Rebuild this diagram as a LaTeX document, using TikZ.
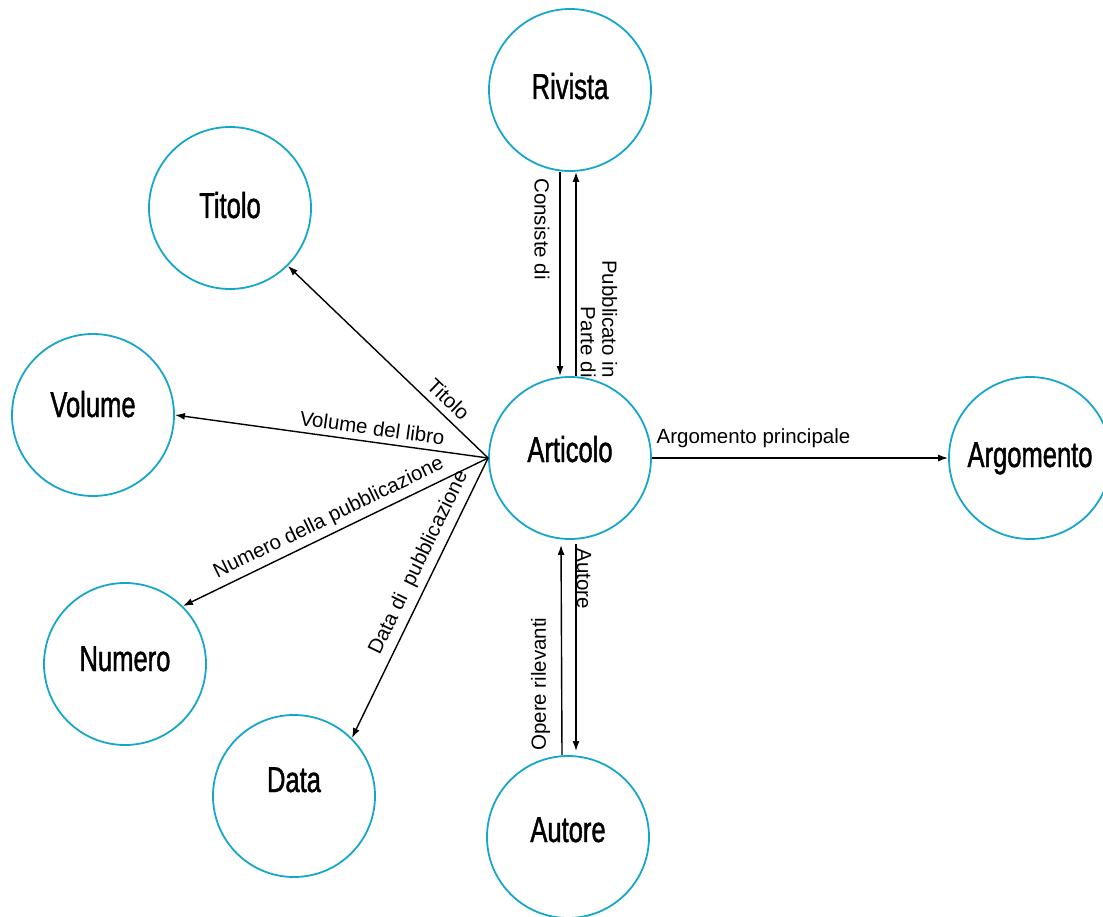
\documentclass[tikz,border=0pt]{standalone}
\usepackage{fontspec}
\setmainfont{Liberation Sans}
\newfontfamily\entfont[FakeStretch=0.71,FakeBold=1.2]{Liberation Sans}
\usetikzlibrary{arrows.meta}
\definecolor{entblue}{RGB}{22,166,202}
\begin{document}
\begin{tikzpicture}[x=1pt,y=-1pt,
 ent/.style={circle, draw=entblue, line width=1.8pt, minimum size=162pt, inner sep=0pt},
 entname/.style={anchor=base, inner sep=0pt, font=\entfont\fontsize{36}{40}\selectfont},
 arr/.style={-{Latex[length=10pt,width=7pt]}, line width=1.4pt},
 elab/.style={font=\fontsize{20.5}{21.5}\selectfont, inner sep=2pt},
]
\useasboundingbox (0,0) rectangle (1103,917);
% entities
\node[ent] (rivista) at (570,90) {};
\node[entname] (rivistat) at (570,99) {Rivista};
\node[ent] (titolo) at (230,208) {};
\node[entname] (titolot) at (230,218) {Titolo};
\node[ent] (volume) at (93,415) {};
\node[entname] (volumet) at (93,417) {Volume};
\node[ent] (articolo) at (570,458) {};
\node[entname] (articolot) at (570,462) {Articolo};
\node[ent] (argomento) at (1030,458) {};
\node[entname] (argomentot) at (1030,467) {Argomento};
\node[ent] (numero) at (125,664) {};
\node[entname] (numerot) at (125,671) {Numero};
\node[ent] (data) at (294,796) {};
\node[entname] (datat) at (294,792) {Data};
\node[ent] (autore) at (568,837) {};
\node[entname] (autoret) at (568,842) {Autore};
% Rivista <-> Articolo
\draw[arr] ([xshift=-10pt]rivista.south) -- ([xshift=-10pt]articolo.north)
  node[elab, pos=0.28, xshift=-18pt, rotate=-90] {Consiste di};
\draw[arr] ([xshift=6pt]articolo.north) -- ([xshift=6pt]rivista.south)
  node[elab, pos=0.28, xshift=23pt, rotate=-90, align=right] {Pubblicato in\\Parte di};
% Autore <-> Articolo
\draw[arr, shorten >=5pt] ([xshift=-6pt]autore.north) -- ([xshift=-9pt]articolo.south)
  node[elab, pos=0.33, xshift=-21pt, rotate=90] {Opere rilevanti};
\draw[arr, shorten <=4pt, shorten >=4pt] ([xshift=6pt]articolo.south) -- ([xshift=8pt]autore.north)
  node[elab, pos=0.18, xshift=8pt, rotate=-90] {Autore};
% Argomento
\draw[arr] (articolo.east) -- (argomento.west)
  node[elab, pos=0, anchor=base west, inner sep=0pt, xshift=4pt, yshift=15pt] {Argomento principale};
% fan to the left
\draw[arr] (articolo.west) -- (titolo.-45)
  node[elab, sloped, above=5pt, pos=0.25] {Titolo};
\draw[arr] (articolo.west) -- (volume.east)
  node[elab, sloped, above=4pt, pos=0.376] {Volume del libro};
\draw[arr] (articolo.west) -- (numero.45)
  node[elab, sloped, above=3pt, pos=0.5] {Numero della pubblicazione};
\draw[arr] (articolo.west) -- (data.45)
  node[elab, sloped, above=4pt, pos=0.4] {Data di~ pubblicazione};
\end{tikzpicture}
\end{document}
